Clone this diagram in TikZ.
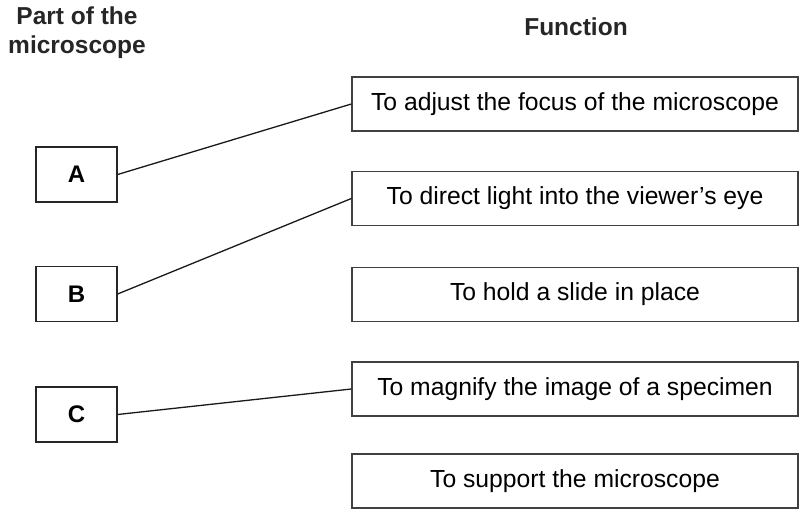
\documentclass[tikz,border=0pt]{standalone}
\usepackage{fontspec}
\setmainfont{Liberation Sans}
\begin{document}
\begin{tikzpicture}[x=1pt,y=-1pt,
  partbox/.style={draw=black!85,line width=1.3pt,minimum width=81pt,minimum height=55pt,inner sep=0pt,font=\fontsize{24}{28}\selectfont\bfseries},
  funcbox/.style={draw=black!75,line width=1.3pt,minimum width=446pt,minimum height=54pt,inner sep=0pt,font=\fontsize{24.7}{28}\selectfont},
  header/.style={font=\fontsize{24.5}{29}\selectfont\bfseries,text=black!85,align=center},
  link/.style={draw=black!90,line width=1.3pt}]
\useasboundingbox (0,0) rectangle (800,510);
\node[header] (h1) at (77,33) {Part of the\\microscope};
\node[header] (h2) at (576,27) {Function};
\node[partbox] (A) at (76.5,174.5) {A};
\node[partbox] (B) at (76.5,294) {B};
\node[partbox] (C) at (76.5,414.5) {C};
\node[funcbox] (f1) at (575,104) {To adjust the focus of the microscope};
\node[funcbox] (f2) at (575,198.5) {To direct light into the viewer’s eye};
\node[funcbox] (f3) at (575,294.5) {To hold a slide in place};
\node[funcbox] (f4) at (575,389) {To magnify the image of a specimen};
\node[funcbox] (f5) at (575,481) {To support the microscope};
\draw[link] (A.east) -- (f1.west);
\draw[link] (B.east) -- (f2.west);
\draw[link] (C.east) -- (f4.west);
\end{tikzpicture}
\end{document}
